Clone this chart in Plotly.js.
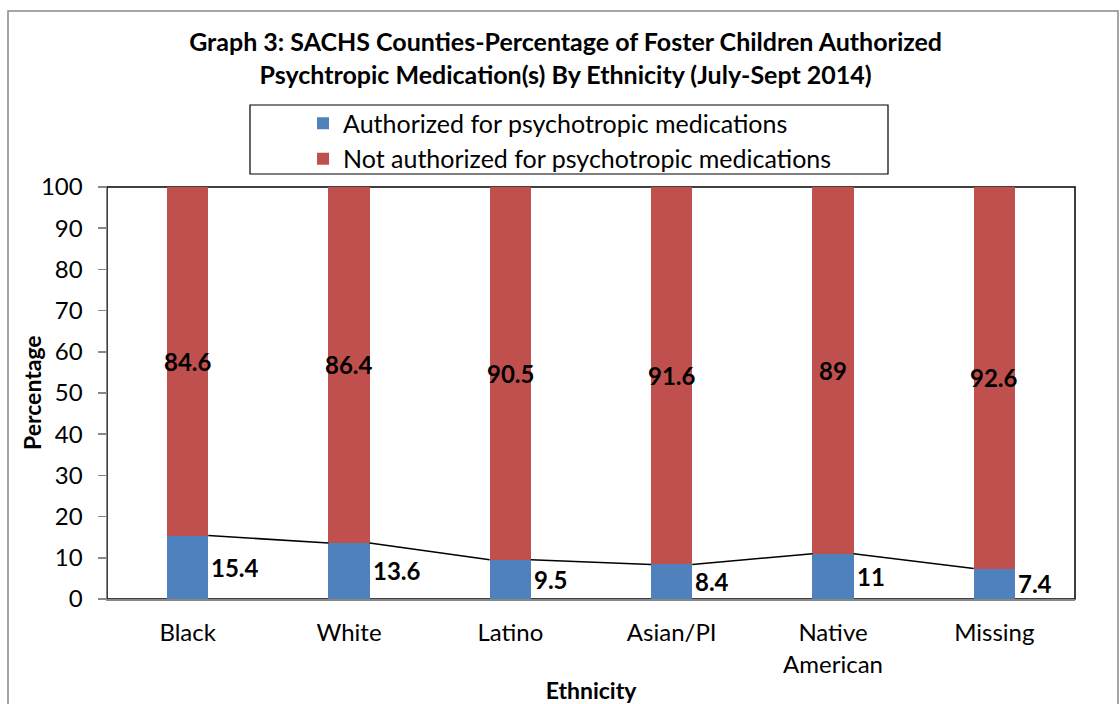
<!DOCTYPE html>
<html><head><meta charset="utf-8">
<script src="https://cdn.plot.ly/plotly-3.0.1.min.js"></script>
<style>body{margin:0;background:#fff}#c{width:1120px;height:704px}</style>
</head><body><div id="c"></div>
<script>
const categories = ["Black", "White", "Latino", "Asian/PI", "Native<br>American", "Missing"];
const authorized = [15.4, 13.6, 9.5, 8.4, 11, 7.4];
const notAuthorized = [84.6, 86.4, 90.5, 91.6, 89, 92.6];
const yTicks = [0, 10, 20, 30, 40, 50, 60, 70, 80, 90, 100];

const FONT = "Lato, 'Open Sans', sans-serif";
const BLUE = "#4F81BD", RED = "#C0504D";
const BARW = 0.255;
const idx = categories.map((_, i) => i);

// series line from right edge of one bar to left edge of the next
const lx = [], ly = [];
for (let i = 0; i < authorized.length - 1; i++) {
  lx.push(i + BARW / 2, i + 1 - BARW / 2, null);
  ly.push(authorized[i], authorized[i + 1], null);
}

const traces = [
  {type: "bar", x: idx, y: authorized, name: "Authorized for psychotropic medications",
   marker: {color: BLUE}, width: BARW, hoverinfo: "none"},
  {type: "bar", x: idx, y: notAuthorized, name: "Not authorized for psychotropic medications",
   marker: {color: RED}, width: BARW, hoverinfo: "none"},
  {type: "scatter", mode: "lines", x: lx, y: ly, line: {color: "#000", width: 1.5},
   showlegend: false, hoverinfo: "none", connectgaps: false}
];

const annotations = [];
idx.forEach(i => {
  annotations.push({x: i + BARW / 2, y: authorized[i] / 2, text: String(authorized[i]),
    xanchor: "left", yanchor: "middle", xshift: 1, showarrow: false,
    font: {family: FONT, size: 24, color: "#000", weight: "bold"}});
  annotations.push({x: i, y: authorized[i] + notAuthorized[i] / 2, text: String(notAuthorized[i]),
    xanchor: "center", yanchor: "middle", showarrow: false,
    font: {family: FONT, size: 24, color: "#000", weight: "bold"}});
});
annotations.push({xref: "paper", yref: "paper", x: (32 - 107) / 968, y: 0.5,
  text: "<b>Percentage</b>", textangle: -90, showarrow: false,
  xanchor: "center", yanchor: "middle", font: {family: FONT, size: 23, color: "#000"}});

const layout = {
  width: 1120, height: 704,
  margin: {l: 107, r: 45, t: 187, b: 105},
  paper_bgcolor: "#fff", plot_bgcolor: "#fff",
  barmode: "stack",
  font: {family: FONT, color: "#000"},
  title: {text: "<b>Graph 3: SACHS Counties-Percentage of Foster Children Authorized<br>Psychtropic Medication(s) By Ethnicity (July-Sept 2014)</b>",
    x: 0.505, xanchor: "center", y: 0.927, yanchor: "top",
    font: {family: FONT, size: 25, color: "#000"}},
  xaxis: {range: [-0.5, 5.5], tickvals: idx, ticktext: categories, showgrid: false,
    zeroline: false, showline: true, linecolor: "#888", linewidth: 1.5, ticks: "",
    tickfont: {size: 24, family: FONT}, ticklabelstandoff: 12, fixedrange: true,
    title: {text: "<b>Ethnicity</b>", font: {size: 23, family: FONT}, standoff: 10}},
  yaxis: {range: [0, 100], tickvals: yTicks, showgrid: false, zeroline: false,
    showline: true, linecolor: "#888", linewidth: 1.5, ticks: "outside", ticklen: 8,
    tickcolor: "#888", tickwidth: 1.5, tickfont: {size: 24, family: FONT},
    ticklabelstandoff: 10, fixedrange: true},
  legend: {x: 0.2025, xanchor: "left", y: 1.21, yanchor: "top", orientation: "v",
    traceorder: "normal",
    bgcolor: "rgba(0,0,0,0)", borderwidth: 0, font: {size: 25, family: FONT},
    itemwidth: 30, tracegroupgap: 0},
  shapes: [
    {type: "rect", xref: "paper", yref: "paper", x0: 0, x1: 1, y0: 0, y1: 1,
     line: {color: "#000", width: 1.5}, layer: "below"},
    {type: "rect", xref: "paper", yref: "paper", x0: (250 - 107) / 968, x1: (888 - 107) / 968,
     y0: (599 - 174) / 412, y1: (599 - 105) / 412, line: {color: "#000", width: 1.2}},
    {type: "rect", xref: "paper", yref: "paper", x0: (8 - 107) / 968, x1: (1118 - 107) / 968,
     y0: (599 - 712) / 412, y1: (599 - 11) / 412, line: {color: "#888", width: 1.5}}
  ],
  annotations: annotations,
  showlegend: true,
  bargap: 0
};

Plotly.newPlot("c", traces, layout, {displayModeBar: false, staticPlot: true});
</script></body></html>
